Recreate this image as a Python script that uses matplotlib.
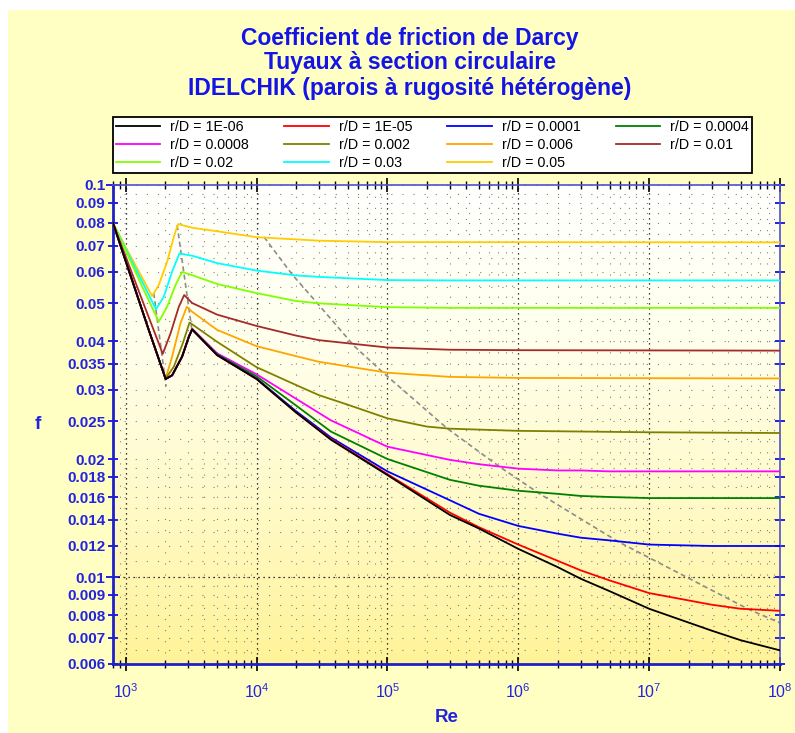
import matplotlib
matplotlib.use("Agg")
import matplotlib.pyplot as plt
import numpy as np
from matplotlib.patches import Rectangle
from matplotlib.colors import LinearSegmentedColormap
from matplotlib.ticker import FixedLocator, FixedFormatter, LogLocator, NullFormatter, FuncFormatter
from matplotlib.lines import Line2D

plt.rcParams["font.family"] = ["Liberation Sans", "DejaVu Sans"]
plt.rcParams["mathtext.default"] = "regular"

# roughness labels and colours
labels = ["r/D = 1E-06", "r/D = 1E-05", "r/D = 0.0001", "r/D = 0.0004",
          "r/D = 0.0008", "r/D = 0.002", "r/D = 0.006", "r/D = 0.01",
          "r/D = 0.02", "r/D = 0.03", "r/D = 0.05"]
colors = ["#000000", "#FF0000", "#0000FF", "#008000", "#FF00FF", "#808000",
          "#FFA500", "#A52A2A", "#80FF00", "#00FFFF", "#FFCC00"]

# Reynolds values (smooth family)
re_smooth = [800, 1000, 1500, 2020, 2265, 2700, 3040, 3220, 5000, 1e4, 2e4, 3.7e4,
             1e5, 3e5, 5e5, 1e6, 2e6, 3e6, 5e6, 1e7, 3e7, 5e7, 1e8]
f_1e6 = [0.080, 0.064, 0.0427, 0.0320, 0.0327, 0.0365, 0.0410, 0.0428, 0.0368, 0.0320,
         0.0263, 0.0224, 0.0182, 0.0144, 0.0133, 0.0118, 0.0106, 0.0099, 0.0092, 0.0083,
         0.0073, 0.0069, 0.0065]
f_1e5 = [0.080, 0.064, 0.0427, 0.0320, 0.0327, 0.0365, 0.0410, 0.0428, 0.0368, 0.0320,
         0.0263, 0.0225, 0.0183, 0.0146, 0.0134, 0.0121, 0.0110, 0.0104, 0.0098, 0.0091,
         0.0085, 0.0083, 0.0082]
f_1e4 = [0.080, 0.064, 0.0427, 0.0320, 0.0327, 0.0365, 0.0410, 0.0428, 0.0369, 0.0321,
         0.0265, 0.0227, 0.0186, 0.0157, 0.0145, 0.0135, 0.0129, 0.0126, 0.0124, 0.0121,
         0.0120, 0.0120, 0.0120]
f_4e4 = [0.080, 0.064, 0.0427, 0.0320, 0.0327, 0.0365, 0.0410, 0.0429, 0.0370, 0.0325,
         0.0274, 0.0235, 0.0200, 0.0177, 0.0171, 0.0166, 0.0163, 0.0161, 0.0160, 0.0159,
         0.0159, 0.0159, 0.0159]
f_8e4 = [0.080, 0.064, 0.0427, 0.0320, 0.0327, 0.0366, 0.0412, 0.0430, 0.0372, 0.0329,
         0.0285, 0.0251, 0.0215, 0.0199, 0.0194, 0.0189, 0.0187, 0.0187, 0.0186, 0.0186,
         0.0186, 0.0186, 0.0186]

re_002 = [800, 1000, 1500, 2020, 2333, 2734, 3077, 5000, 1e4, 2e4, 3e4, 5e4, 1e5, 2e5,
          3e5, 1e6, 1e7, 1e8]
f_002 = [0.080, 0.064, 0.0427, 0.0321, 0.0344, 0.0395, 0.0446, 0.0398, 0.0343, 0.0309,
         0.0291, 0.0275, 0.0254, 0.0242, 0.0239, 0.0236, 0.0234, 0.0233]

re_006 = [800, 1000, 1500, 2020, 2263, 2624, 2930, 3220, 5000, 1e4, 2e4, 3e4, 1e5, 3e5,
          1e6, 1e8]
f_006 = [0.080, 0.064, 0.0427, 0.0321, 0.0365, 0.0444, 0.0489, 0.0475, 0.0427, 0.0388,
         0.0366, 0.0354, 0.0332, 0.0324, 0.0322, 0.0321]

re_01 = [800, 1054, 1333, 1920, 2200, 2547, 2800, 3220, 5000, 1e4, 2e4, 3e4, 1e5, 3e5,
         1e6, 1e8]
f_01 = [0.080, 0.0627, 0.0510, 0.0371, 0.0418, 0.0489, 0.0524, 0.0500, 0.0467, 0.0437,
        0.0413, 0.0402, 0.0385, 0.0380, 0.0379, 0.0378]

re_02 = [800, 1054, 1333, 1791, 2073, 2404, 2700, 3220, 5000, 1e4, 2e4, 3e4, 1e5, 3e5, 1e8]
f_02 = [0.080, 0.0654, 0.0552, 0.0448, 0.0489, 0.0556, 0.0600, 0.0589, 0.0559, 0.0530,
        0.0506, 0.0499, 0.0488, 0.0486, 0.0486]

re_03 = [800, 1054, 1333, 1706, 1956, 2263, 2576, 3220, 5000, 1e4, 2e4, 3e4, 1e5, 3e5, 1e8]
f_03 = [0.080, 0.0663, 0.0568, 0.0482, 0.0519, 0.0601, 0.0669, 0.0660, 0.0632, 0.0605,
        0.0588, 0.0583, 0.0572, 0.0571, 0.0571]

re_05 = [800, 1054, 1333, 1591, 1791, 2073, 2333, 2516, 3220, 5000, 1e4, 3e4, 1e5, 1e8]
f_05 = [0.080, 0.0672, 0.0581, 0.0521, 0.0556, 0.0637, 0.0738, 0.0795, 0.0778, 0.0762,
        0.0736, 0.0721, 0.0715, 0.0714]

# grey limit lines
bound_re = [11400, 18800, 29200, 55900, 94800, 2.88e5, 7.21e5, 1.46e6, 5.82e6, 5.77e7, 1e8]
bound_f = [0.0737, 0.0590, 0.0499, 0.0388, 0.0330, 0.0239, 0.0191, 0.0163, 0.0123, 0.00827, 0.00764]
min_re = [1639, 2036]
min_f = [0.0530, 0.0306]
peak_re = [2473, 3223]
peak_f = [0.0790, 0.0422]

series = [(re_smooth, f_1e6), (re_smooth, f_1e5), (re_smooth, f_1e4), (re_smooth, f_4e4),
          (re_smooth, f_8e4), (re_002, f_002), (re_006, f_006), (re_01, f_01),
          (re_02, f_02), (re_03, f_03), (re_05, f_05)]

ytick_vals = [0.006, 0.007, 0.008, 0.009, 0.01, 0.012, 0.014, 0.016, 0.018, 0.02,
              0.025, 0.03, 0.035, 0.04, 0.05, 0.06, 0.07, 0.08, 0.09, 0.1]
ytick_text = ["0.006", "0.007", "0.008", "0.009", "0.01", "0.012", "0.014", "0.016",
              "0.018", "0.02", "0.025", "0.03", "0.035", "0.04", "0.05", "0.06",
              "0.07", "0.08", "0.09", "0.1"]
ygrid_extra = [0.0065, 0.0075, 0.0085, 0.0095, 0.011, 0.013, 0.015, 0.017, 0.019,
               0.0225, 0.0275, 0.045, 0.055, 0.065, 0.075, 0.085, 0.095]

blue = "#2323E0"
fig = plt.figure(figsize=(7.95, 7.33), dpi=100)
fig.patch.set_facecolor("white")
fig.add_artist(Rectangle((8 / 795, 0), 1, 1 - 10 / 733, transform=fig.transFigure,
                         facecolor="#FFFFC4", edgecolor="none", zorder=-10))

ax = fig.add_axes([113 / 795, 1 - 664 / 733, 667 / 795, 479 / 733])
ax.set_xscale("log")
ax.set_yscale("log")

# background gradient of the plot area
cmap = LinearSegmentedColormap.from_list("bg", ["#FFF398", "#FFFAC8", "#FFFFEC", "#FFFFFF"])
grad = np.linspace(0, 1, 256).reshape(-1, 1)
ax.imshow(grad, cmap=cmap, aspect="auto", extent=[0, 1, 0, 1], origin="lower",
          transform=ax.transAxes, zorder=0)

n = len(series)
for i, ((re, f), col) in enumerate(zip(series, colors)):
    ax.plot(re, f, color=col, lw=1.3, zorder=3 + n - i)

ax.plot(bound_re, bound_f, color="#8C8C8C", lw=1.2, ls=(0, (3, 2)), zorder=2)
ax.plot(min_re, min_f, color="#8C8C8C", lw=1.2, ls=(0, (3, 2)), zorder=2)
ax.plot(peak_re, peak_f, color="#8C8C8C", lw=1.2, ls=(0, (3, 2)), zorder=2)

ax.set_xlim(800, 1e8)
ax.set_ylim(0.006, 0.1)

ax.yaxis.set_major_locator(FixedLocator(ytick_vals))
ax.yaxis.set_major_formatter(FixedFormatter(ytick_text))
ax.yaxis.set_minor_locator(FixedLocator(ygrid_extra))
ax.yaxis.set_minor_formatter(NullFormatter())
ax.xaxis.set_major_locator(LogLocator(base=10))
ax.xaxis.set_minor_locator(LogLocator(base=10, subs=np.arange(2, 10)))
ax.xaxis.set_minor_formatter(NullFormatter())
ax.xaxis.set_major_formatter(FuncFormatter(lambda v, p: r"$10^{%d}$" % round(np.log10(v))))

ax.grid(True, which="minor", ls=(0, (1, 9)), color="#808080", lw=0.8)
ax.grid(True, which="major", axis="y", ls=(0, (1, 9)), color="#808080", lw=0.8)
ax.grid(True, which="major", axis="x", ls=(0, (1, 3)), color="#000000", lw=0.9)
ax.axhline(0.01, ls=(0, (1, 3)), color="#000000", lw=0.9, zorder=1)
ax.set_axisbelow(True)

ax.tick_params(axis="y", which="major", direction="inout", length=7, width=1.4,
               color=blue, labelcolor=blue, labelsize=11, pad=2, right=True)
ax.tick_params(axis="y", which="minor", length=0, right=True)
ax.tick_params(axis="x", which="major", direction="inout", length=10, width=1.2,
               color="black", labelcolor=blue, labelsize=11.5, pad=8, top=True)
ax.tick_params(axis="x", which="minor", direction="inout", length=6, width=1,
               color="black", top=True)
for lbl in ax.get_yticklabels():
    lbl.set_fontweight("bold")
# decade ticks on the y axis are drawn darker and longer
for tk in ax.yaxis.get_major_ticks():
    if tk.get_loc() in (0.01, 0.1):
        tk.tick1line.set_color("black")
        tk.tick1line.set_markersize(10)

for side in ["left", "bottom"]:
    ax.spines[side].set_color("#2020C8")
    ax.spines[side].set_linewidth(2)
for side in ["top", "right"]:
    ax.spines[side].set_color("#5050D0")
    ax.spines[side].set_linewidth(1.2)

ax.set_xlabel("Re", color=blue, fontsize=13.5, fontweight="bold", labelpad=6)
ax.set_ylabel("f", color=blue, fontsize=13.5, fontweight="bold", rotation=0, va="center")
ax.yaxis.set_label_coords(-(113 - 38) / 667, 0.5)

title_lines = ["Coefficient de friction de Darcy", "Tuyaux à section circulaire",
               "IDELCHIK (parois à rugosité hétérogène)"]
for k, t in enumerate(title_lines):
    fig.text(410 / 795, 1 - (38 + 25 * k) / 733, t, color="#1414E6", fontsize=16.5,
             fontweight="bold", ha="center", va="center")

# legend filled row by row, as in the original
order = [0, 4, 8, 1, 5, 9, 2, 6, 10, 3, 7]
handles = [Line2D([], [], color=colors[i], lw=1.3) for i in order]
leg = ax.legend(handles, [labels[i] for i in order], ncol=4, loc="upper left",
                bbox_to_anchor=(113 / 795, 1 - 173 / 733, 639 / 795, 56 / 733),
                bbox_transform=fig.transFigure, mode="expand",
                fontsize=10.3, frameon=True, fancybox=False, framealpha=1,
                edgecolor="black", handlelength=3.1, handletextpad=0.7,
                labelspacing=0.3, borderpad=0.2, borderaxespad=0)
leg.get_frame().set_linewidth(1.3)

fig.savefig("out.png", dpi=100)
